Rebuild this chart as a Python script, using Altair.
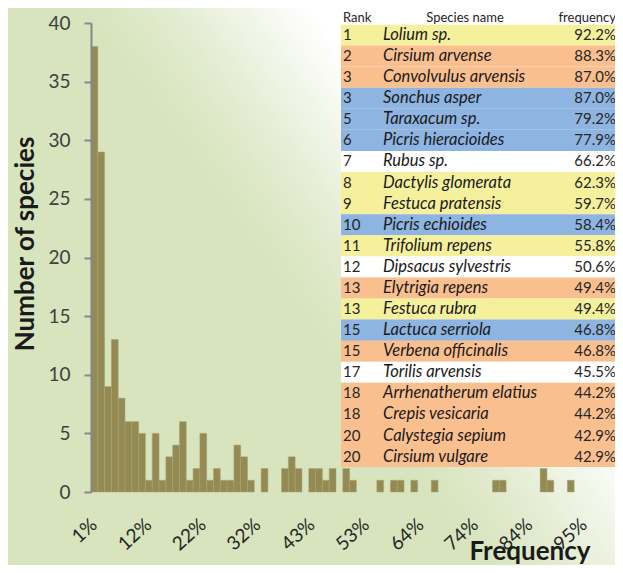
import altair as alt
import pandas as pd

# ---------------- data ----------------
# number of species per frequency class (77 classes: k/77 sites)
counts = [38, 29, 9, 13, 8, 6, 6, 5, 1, 5,
          1, 3, 4, 6, 1, 2, 5, 1, 2, 1,
          1, 4, 3, 1, 0, 2, 0, 0, 2, 3,
          2, 0, 2, 2, 1, 2, 0, 2, 1, 0,
          0, 0, 1, 0, 1, 1, 0, 1, 0, 0,
          1, 0, 0, 0, 0, 0, 0, 0, 0, 1,
          1, 0, 0, 0, 0, 0, 2, 1, 0, 0,
          1, 0, 0, 0, 0, 0, 0]
tick_labels = ["1%", "12%", "22%", "32%", "43%", "53%", "64%", "74%", "84%", "95%"]
tick_label_classes = [1, 9, 17, 25, 33, 41, 49, 57, 65, 73]

ranks = ["1", "2", "3", "3", "5", "6", "7", "8", "9", "10", "11", "12", "13", "13",
         "15", "15", "17", "18", "18", "20", "20"]
species = ["Lolium sp.", "Cirsium arvense", "Convolvulus arvensis", "Sonchus asper",
           "Taraxacum sp.", "Picris hieracioides", "Rubus sp.", "Dactylis glomerata",
           "Festuca pratensis", "Picris echioides", "Trifolium repens", "Dipsacus sylvestris",
           "Elytrigia repens", "Festuca rubra", "Lactuca serriola", "Verbena officinalis",
           "Torilis arvensis", "Arrhenatherum elatius", "Crepis vesicaria",
           "Calystegia sepium", "Cirsium vulgare"]
freqs = ["92.2%", "88.3%", "87.0%", "87.0%", "79.2%", "77.9%", "66.2%", "62.3%", "59.7%",
         "58.4%", "55.8%", "50.6%", "49.4%", "49.4%", "46.8%", "46.8%", "45.5%", "44.2%",
         "44.2%", "42.9%", "42.9%"]
groups = ["Y", "O", "O", "B", "B", "B", "W", "Y", "Y", "B", "Y", "W", "O", "Y", "B", "O",
          "W", "O", "O", "O", "O"]
group_names = ["Y", "O", "B", "W"]
group_colors = ["#f5f09c", "#fabf8f", "#8eb4e2", "#ffffff"]
header = ["Rank", "Species name", "frequency"]

y_title = "Number of species"
x_title = "Frequency"

# ---------------- tables ----------------
n = len(counts)
bins_df = pd.DataFrame({"start": list(range(n)), "end": list(range(1, n + 1)),
                        "count": counts, "zero": [0] * n})
bins_df = bins_df[bins_df["count"] > 0]

lab_df = pd.DataFrame({"pos": [c - 0.5 for c in tick_label_classes], "label": tick_labels})

rows = list(range(1, len(species) + 1))
tab_df = pd.DataFrame({
    "row": rows,
    "top": [r - 1 for r in rows],
    "bot": rows,
    "mid": [r - 0.5 for r in rows],
    "rank": ranks, "species": species, "freq": freqs, "group": groups,
})
head_df = pd.DataFrame({"top": [-1.0], "bot": [0.0], "mid": [-0.3]})
one = pd.DataFrame({"a": [0]})

W, H = 524, 469
FONT = "Lato"
AX = "#878787"

xscale = alt.Scale(domain=[0, n], nice=False, zero=False)
yscale = alt.Scale(domain=[0, 40], nice=False)
tscale = alt.Scale(domain=[-0.067, 22.18], reverse=True, nice=False, zero=False)

bg = alt.Chart(one).mark_rect(
    fill=alt.LinearGradient(
        gradient="linear",
        stops=[alt.GradientStop(color="#d7e4bd", offset=0),
               alt.GradientStop(color="#e2ebcf", offset=0.35),
               alt.GradientStop(color="#ffffff", offset=1)],
        x1=0.455, y1=0.50, x2=0.715, y2=0.33),
).encode(x=alt.value(-83), x2=alt.value(W), y=alt.value(-15), y2=alt.value(H + 73))

bars = alt.Chart(bins_df).mark_rect(color="#948a54", stroke="#aaa275", strokeWidth=0.5).encode(
    x=alt.X("start:Q", scale=xscale,
            axis=alt.Axis(values=list(range(0, 71, 10)), labels=False, title=None, grid=False,
                          tickSize=7, tickWidth=2, tickColor=AX, domainColor=AX,
                          domainWidth=2, zindex=1)),
    x2="end:Q",
    y=alt.Y("count:Q", scale=yscale,
            axis=alt.Axis(values=list(range(0, 41, 5)), title=None, grid=False, tickSize=7,
                          tickWidth=2, tickColor=AX, domainColor=AX, domainWidth=2,
                          labelPadding=14, labelFont=FONT, labelFontSize=19,
                          labelColor="#404040", zindex=1)),
    y2="zero:Q",
)

xlab = alt.Chart(lab_df).mark_text(
    angle=318, align="right", baseline="middle", font=FONT, fontSize=19, color="#262626"
).encode(x=alt.X("pos:Q", scale=xscale, axis=None), y=alt.value(H + 30), text="label:N")

tab_rect = alt.Chart(tab_df).mark_rect().encode(
    x=alt.value(250), x2=alt.value(W + 10),
    y=alt.Y("top:Q", scale=tscale, axis=None), y2="bot:Q",
    color=alt.Color("group:N", scale=alt.Scale(domain=group_names, range=group_colors),
                    legend=None),
)
head_rect = alt.Chart(head_df).mark_rect(color="#ffffff").encode(
    x=alt.value(250), x2=alt.value(W + 10),
    y=alt.Y("top:Q", scale=tscale, axis=None), y2="bot:Q",
)

def head_text(i, x, align):
    return alt.Chart(head_df).mark_text(
        align=align, baseline="middle", font=FONT, fontSize=13, color="#262626"
    ).encode(x=alt.value(x), y=alt.Y("mid:Q", scale=tscale, axis=None),
             text=alt.value(header[i]))

h1 = head_text(0, 252, "left")
h2 = head_text(1, 374, "center")
h3 = head_text(2, 525, "right")

rank_t = alt.Chart(tab_df).mark_text(
    align="left", baseline="middle", font=FONT, fontSize=15, color="#262626"
).encode(x=alt.value(252), y=alt.Y("mid:Q", scale=tscale, axis=None), text="rank:N")
spec_t = alt.Chart(tab_df).mark_text(
    align="left", baseline="middle", font=FONT, fontSize=16.5, fontStyle="italic",
    color="#1a1a1a"
).encode(x=alt.value(292), y=alt.Y("mid:Q", scale=tscale, axis=None), text="species:N")
freq_t = alt.Chart(tab_df).mark_text(
    align="right", baseline="middle", font=FONT, fontSize=15, color="#262626"
).encode(x=alt.value(525), y=alt.Y("mid:Q", scale=tscale, axis=None), text="freq:N")

ytit = alt.Chart(one).mark_text(
    angle=270, align="center", baseline="middle", font=FONT, fontSize=26,
    fontWeight="bold", color="#1a1a1a"
).encode(x=alt.value(-65), y=alt.value(221), text=alt.value(y_title))
xtit = alt.Chart(one).mark_text(
    align="center", baseline="alphabetic", font=FONT, fontSize=26,
    fontWeight="bold", color="#1a1a1a"
).encode(x=alt.value(439), y=alt.value(H + 68), text=alt.value(x_title))

chart = alt.layer(
    bg, bars, xlab, tab_rect, head_rect, h1, h2, h3, rank_t, spec_t, freq_t, ytit, xtit
).resolve_scale(y="independent").properties(
    width=W, height=H,
    autosize=alt.AutoSizeParams(type="none"),
    padding={"left": 83, "top": 15, "right": 0, "bottom": 73},
).configure_view(stroke=None).configure(background="#d7e4bd")

chart.save("out.html", embed_options={"renderer": "svg", "actions": False})
